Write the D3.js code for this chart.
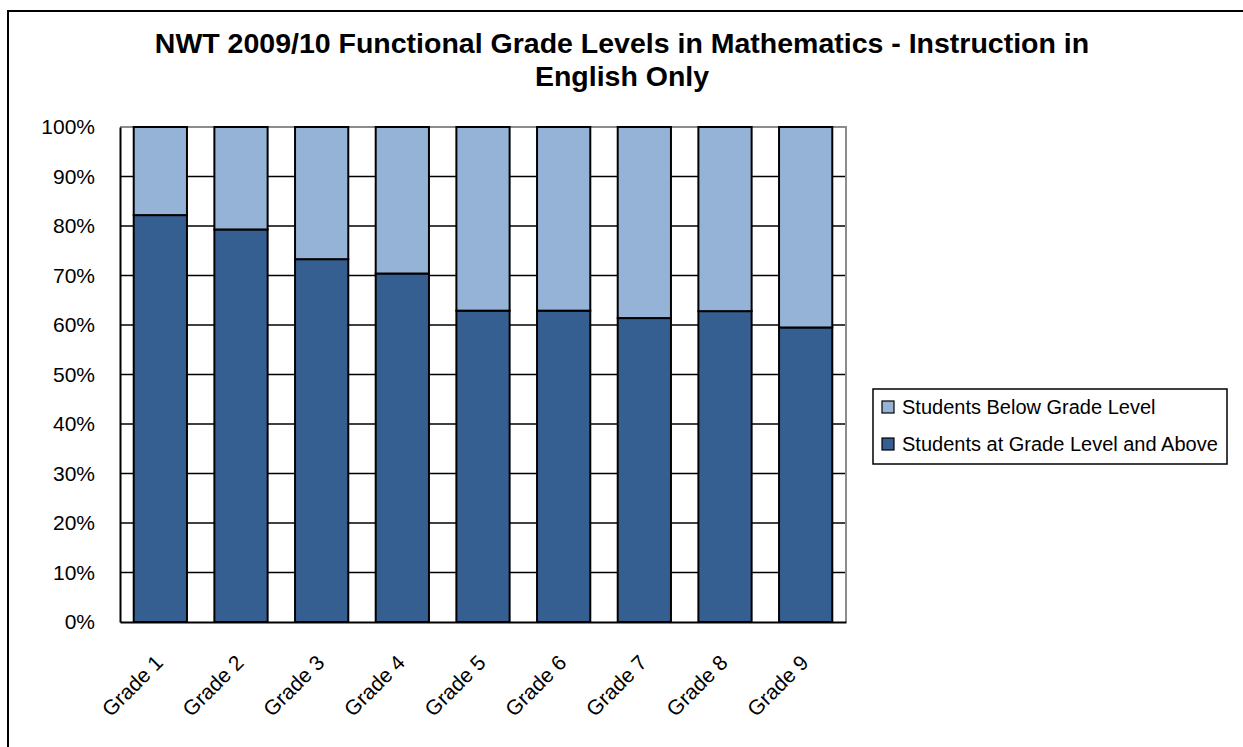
<!DOCTYPE html>
<html>
<head>
<meta charset="utf-8">
<script src="https://cdn.jsdelivr.net/npm/d3@7"></script>
<style>
  body { margin: 0; background: #fff; }
  text { font-family: Arial, "Liberation Sans", sans-serif; }
</style>
</head>
<body>
<div id="chart"></div>
<script>
// data
var grades = ["Grade 1", "Grade 2", "Grade 3", "Grade 4", "Grade 5", "Grade 6", "Grade 7", "Grade 8", "Grade 9"];
var atLevel = [82.2, 79.3, 73.3, 70.4, 62.9, 62.9, 61.4, 62.8, 59.5];
var belowLevel = [17.8, 20.7, 26.7, 29.6, 37.1, 37.1, 38.6, 37.2, 40.5];
var yTicks = [0, 10, 20, 30, 40, 50, 60, 70, 80, 90, 100];
var seriesNames = ["Students Below Grade Level", "Students at Grade Level and Above"];
var seriesColors = ["#95b3d7", "#365f91"];

var svgWidth = 1243;
var svgHeight = 747;
var margin = { top: 127, right: 397, bottom: 125, left: 120 };
var width = svgWidth - margin.left - margin.right;
var height = svgHeight - margin.top - margin.bottom;

var svg = d3.select("#chart")
    .append("svg")
    .attr("width", svgWidth)
    .attr("height", svgHeight);

// outer chart frame (runs off the right and bottom edges)
svg.append("rect")
    .attr("x", 8)
    .attr("y", 11)
    .attr("width", 1250)
    .attr("height", 760)
    .attr("fill", "none")
    .attr("stroke", "#000")
    .attr("stroke-width", 2);

// title
var title = svg.append("text")
    .attr("text-anchor", "middle")
    .attr("font-weight", "bold")
    .attr("font-size", 28.5)
    .attr("fill", "#000");
title.append("tspan").attr("x", 622).attr("y", 53)
    .text("NWT 2009/10 Functional Grade Levels in Mathematics - Instruction in");
title.append("tspan").attr("x", 622).attr("y", 86)
    .text("English Only");

var chartGroup = svg.append("g")
    .attr("transform", `translate(${margin.left}, ${margin.top})`);

var xScale = d3.scaleBand()
    .domain(grades)
    .range([0, width])
    .paddingInner(0.34)
    .paddingOuter(0.17);

var yScale = d3.scaleLinear()
    .domain([0, 100])
    .range([height, 0]);

// gridlines
chartGroup.append("g")
    .selectAll("line")
    .data(yTicks.slice(1, -1))
    .enter()
    .append("line")
    .attr("x1", 0)
    .attr("x2", width)
    .attr("y1", d => yScale(d))
    .attr("y2", d => yScale(d))
    .attr("stroke", "#000")
    .attr("stroke-width", 1.5);

// plot area border: grey top/right
chartGroup.append("path")
    .attr("d", `M0,0H${width}V${height}`)
    .attr("fill", "none")
    .attr("stroke", "#8c8c8c")
    .attr("stroke-width", 2);

// stacked bars
var stackData = grades.map((g, i) => ({ grade: g, at: atLevel[i], below: belowLevel[i] }));
var stack = d3.stack().keys(["at", "below"]);
var layers = stack(stackData);
var layerColors = { at: seriesColors[1], below: seriesColors[0] };

chartGroup.selectAll(".layer")
    .data(layers)
    .enter()
    .append("g")
    .attr("class", "layer")
    .attr("fill", d => layerColors[d.key])
    .selectAll("rect")
    .data(d => d)
    .enter()
    .append("rect")
    .attr("x", d => xScale(d.data.grade))
    .attr("width", xScale.bandwidth())
    .attr("y", d => yScale(Math.min(d[1], 100)))
    .attr("height", d => yScale(d[0]) - yScale(Math.min(d[1], 100)))
    .attr("stroke", "#000")
    .attr("stroke-width", 2);

// axes
var leftAxis = d3.axisLeft(yScale)
    .tickValues(yTicks)
    .tickSize(0)
    .tickPadding(25)
    .tickFormat(d => d + "%");
var yAxis = chartGroup.append("g").call(leftAxis);
yAxis.select(".domain").attr("stroke", "#000").attr("stroke-width", 2);
yAxis.selectAll("text")
    .attr("font-size", 21)
    .attr("font-family", "Arial, 'Liberation Sans', sans-serif")
    .attr("fill", "#000");

var bottomAxis = d3.axisBottom(xScale).tickSize(0).tickPadding(0);
var xAxis = chartGroup.append("g")
    .attr("transform", `translate(0, ${height})`)
    .call(bottomAxis);
xAxis.select(".domain").attr("stroke", "#000").attr("stroke-width", 2);
xAxis.selectAll("text")
    .attr("font-size", 21)
    .attr("font-family", "Arial, 'Liberation Sans', sans-serif")
    .attr("fill", "#000")
    .attr("text-anchor", "end")
    .attr("dy", "0")
    .attr("transform", "translate(4, 42) rotate(-45)");

// legend
var legend = svg.append("g").attr("transform", "translate(873, 389)");
legend.append("rect")
    .attr("width", 354)
    .attr("height", 75)
    .attr("fill", "#fff")
    .attr("stroke", "#000")
    .attr("stroke-width", 1.5);

var legendItems = legend.selectAll(".item")
    .data(seriesNames)
    .enter()
    .append("g")
    .attr("class", "item")
    .attr("transform", (d, i) => `translate(9, ${18 + i * 37})`);

legendItems.append("rect")
    .attr("x", 0)
    .attr("y", -6)
    .attr("width", 12)
    .attr("height", 12)
    .attr("fill", (d, i) => seriesColors[i])
    .attr("stroke", "#000")
    .attr("stroke-width", 1.2);

legendItems.append("text")
    .attr("x", 20)
    .attr("y", 0)
    .attr("dy", "0.35em")
    .attr("font-size", 20)
    .attr("fill", "#000")
    .text(d => d);
</script>
</body>
</html>
